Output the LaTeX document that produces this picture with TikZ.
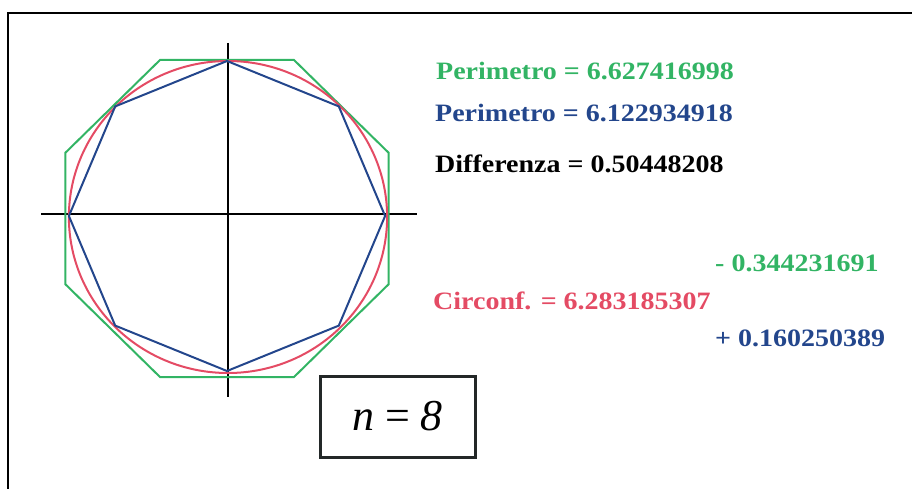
\documentclass[tikz,border=0pt]{standalone}
\usepackage{fontspec}
\setmainfont{Liberation Serif}
\newfontfamily\testo[FakeStretch=1.12]{Liberation Serif}
\usepackage{tikz}
\usetikzlibrary{positioning}
\definecolor{verde}{RGB}{50,180,100}
\definecolor{blu}{RGB}{35,70,140}
\definecolor{rosso}{RGB}{228,75,100}
\definecolor{cornice}{RGB}{35,40,40}
\tikzset{
  valore/.style={anchor=base west, inner sep=0pt, font=\testo\bfseries\fontsize{25}{30}\selectfont},
}

\begin{document}
\begin{tikzpicture}[x=1pt, y=-1pt]
  \useasboundingbox (0,0) rectangle (912,489);
  % Cornice
  \draw[line width=2pt] (8,489) -- (8,13) -- (912,13);
  % Assi
  \draw[line width=1.2pt] (41,214) -- (417,214);
  \draw[line width=1.2pt] (228,43) -- (228,397);
  % Ottagono circoscritto
  \draw[verde, line width=2pt, shift={(227,218.5)}, xscale=1.02]
    (22.5:171.6) \foreach \a in {67.5,112.5,...,337.5}{ -- (\a:171.6)} -- cycle;
  % Circonferenza
  \draw[rosso, line width=2pt, shift={(228,217)}, xscale=1.02] (0,0) circle[radius=156];
  % Ottagono inscritto
  \draw[blu, line width=2pt, shift={(227,216)}, xscale=1.02]
    (0:155) \foreach \a in {45,90,...,315}{ -- (\a:155)} -- cycle;
  % Valori
  \node[valore, verde] (perest) at (436,80) {Perimetro = 6.627416998};
  \node[valore, blu] (perint) at (435,122) {Perimetro = 6.122934918};
  \node[valore] (diff) at (435,173) {Differenza = 0.50448208};
  \node[valore, verde] (scartoest) at (715,271) {- 0.344231691};
  \node[valore, rosso] (circ) at (433,309) {Circonf. = 6.283185307};
  \node[valore, blu] (scartoint) at (715,346) {+ 0.160250389};
  % Riquadro
  \node[draw=cornice, line width=3pt, minimum width=155pt, minimum height=81pt, inner sep=0pt,
        font=\fontsize{44}{50}\selectfont] (lati) at (397.5,416.5) {\textit{n} = \textit{8}};
\end{tikzpicture}
\end{document}
